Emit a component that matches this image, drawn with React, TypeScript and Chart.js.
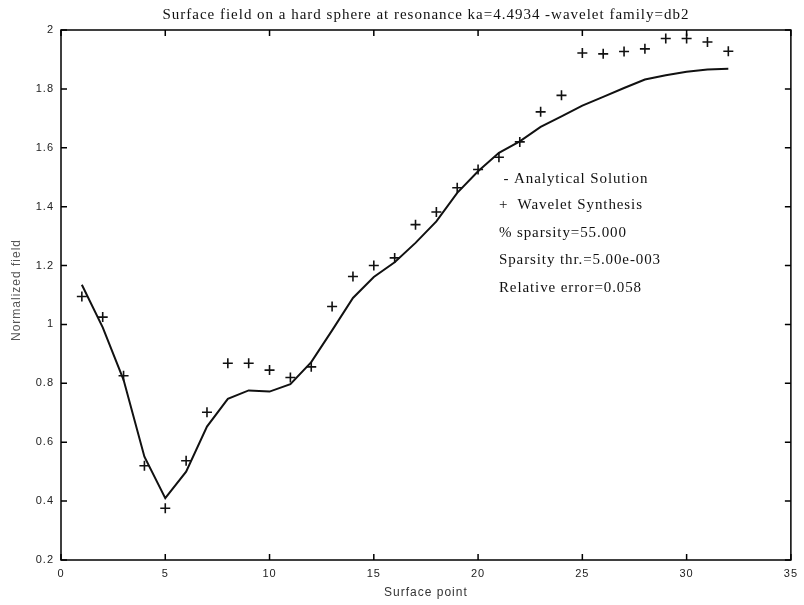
import React, { useEffect, useRef } from "react";
import { Chart, registerables } from "chart.js";

Chart.register(...registerables);

const surfacePoints = [
  1, 2, 3, 4, 5, 6, 7, 8, 9, 10, 11, 12, 13, 14, 15, 16,
  17, 18, 19, 20, 21, 22, 23, 24, 25, 26, 27, 28, 29, 30, 31, 32,
];

const analyticalSolution = [
  1.135, 0.99, 0.812, 0.551, 0.41, 0.5, 0.653, 0.747, 0.776, 0.772, 0.797,
  0.872, 0.98, 1.09, 1.161, 1.211, 1.277, 1.35, 1.447, 1.52, 1.583, 1.622,
  1.671, 1.707, 1.743, 1.773, 1.803, 1.832, 1.846, 1.858, 1.866, 1.868,
];

const waveletSynthesis = [
  1.095, 1.025, 0.826, 0.52, 0.376, 0.537, 0.702, 0.868, 0.868, 0.845, 0.82,
  0.856, 1.061, 1.163, 1.2, 1.226, 1.339, 1.382, 1.464, 1.526, 1.568, 1.62,
  1.722, 1.778, 1.922, 1.919, 1.927, 1.936, 1.971, 1.971, 1.959, 1.928,
];

const xTicks = [0, 5, 10, 15, 20, 25, 30, 35];
const yTicks = [0.2, 0.4, 0.6, 0.8, 1, 1.2, 1.4, 1.6, 1.8, 2];

const titleText =
  "Surface field on a hard sphere at resonance ka=4.4934 -wavelet family=db2";
const xLabel = "Surface point";
const yLabel = "Normalized field";
const annotationLines = [
  " - Analytical Solution",
  "+  Wavelet Synthesis",
  "% sparsity=55.000",
  "Sparsity thr.=5.00e-003",
  "Relative error=0.058",
];
const annotationX = 21;
const annotationY = [1.495, 1.404, 1.312, 1.22, 1.125];

const matlabPlugin = {
  id: "matlabStyle",
  beforeDraw(chart: any) {
    chart.ctx.letterSpacing = "1px";
  },
  afterDraw(chart: any) {
    const ctx = chart.ctx;
    const a = chart.chartArea;
    const xs = chart.scales.x;
    const ys = chart.scales.y;
    ctx.save();
    ctx.letterSpacing = "0px";
    ctx.strokeStyle = "#000";
    ctx.lineWidth = 1.5;
    ctx.strokeRect(a.left, a.top, a.right - a.left, a.bottom - a.top);
    const tl = 6;
    ctx.beginPath();
    xTicks.forEach((v) => {
      const px = xs.getPixelForValue(v);
      ctx.moveTo(px, a.bottom);
      ctx.lineTo(px, a.bottom - tl);
      ctx.moveTo(px, a.top);
      ctx.lineTo(px, a.top + tl);
    });
    yTicks.forEach((v) => {
      const py = ys.getPixelForValue(v);
      ctx.moveTo(a.left, py);
      ctx.lineTo(a.left + tl, py);
      ctx.moveTo(a.right, py);
      ctx.lineTo(a.right - tl, py);
    });
    ctx.stroke();

    // Title
    ctx.fillStyle = "#111";
    ctx.font = "15px 'Liberation Serif', 'DejaVu Serif', serif";
    ctx.letterSpacing = "0px";
    const w0 = ctx.measureText(titleText).width;
    const ls = Math.max(0, (527 - w0) / titleText.length);
    ctx.letterSpacing = ls + "px";
    ctx.textAlign = "center";
    ctx.textBaseline = "alphabetic";
    ctx.fillText(titleText, (a.left + a.right) / 2, 18.5);

    // Annotation
    ctx.textAlign = "left";
    ctx.textBaseline = "middle";
    ctx.letterSpacing = "0.9px";
    annotationLines.forEach((t, i) => {
      ctx.fillText(t, xs.getPixelForValue(annotationX), ys.getPixelForValue(annotationY[i]));
    });

    // Axis labels
    ctx.font = "12px 'Liberation Sans', Arial, sans-serif";
    ctx.letterSpacing = "1px";
    ctx.fillStyle = "#333";
    ctx.textAlign = "center";
    ctx.textBaseline = "middle";
    ctx.fillText(xLabel, (a.left + a.right) / 2, 593);
    ctx.save();
    ctx.translate(17, (a.top + a.bottom) / 2 - 5);
    ctx.rotate(-Math.PI / 2);
    ctx.fillStyle = "#555";
    ctx.fillText(yLabel, 0, 0);
    ctx.restore();
    ctx.restore();
  },
};

export default function App() {
  const ref = useRef<HTMLCanvasElement | null>(null);
  useEffect(() => {
    if (!ref.current) return;
    const chart = new Chart(ref.current, {
      type: "line",
      data: {
        datasets: [
          {
            label: "Analytical Solution",
            data: surfacePoints.map((x, i) => ({ x, y: analyticalSolution[i] })),
            borderColor: "#111",
            borderWidth: 2,
            pointRadius: 0,
            fill: false,
            tension: 0,
          },
          {
            label: "Wavelet Synthesis",
            data: surfacePoints.map((x, i) => ({ x, y: waveletSynthesis[i] })),
            showLine: false,
            pointStyle: "cross",
            pointRadius: 5,
            pointBorderWidth: 1.6,
            borderColor: "#111",
            backgroundColor: "#111",
          },
        ],
      },
      options: {
        responsive: false,
        animation: false,
        devicePixelRatio: 1,
        layout: { padding: { top: 30, right: 9, left: 0, bottom: 0 } },
        plugins: {
          legend: { display: false },
          title: { display: false },
          tooltip: { enabled: false },
        },
        scales: {
          x: {
            type: "linear",
            min: 0,
            max: 35,
            afterBuildTicks: (s: any) => {
              s.ticks = xTicks.map((v) => ({ value: v }));
            },
            ticks: {
              color: "#222",
              padding: 7,
              maxRotation: 0,
              font: { family: "'Liberation Sans', Arial, sans-serif", size: 11 },
              callback: (v: any) => String(v),
            },
            grid: { display: false, drawTicks: false },
            border: { display: false },
            afterFit: (s: any) => {
              s.height = 45;
            },
          },
          y: {
            type: "linear",
            min: 0.2,
            max: 2,
            afterBuildTicks: (s: any) => {
              s.ticks = yTicks.map((v) => ({ value: v }));
            },
            ticks: {
              color: "#222",
              padding: 7,
              font: { family: "'Liberation Sans', Arial, sans-serif", size: 11 },
              callback: (v: any) => Number(v).toFixed(1).replace(/\.0$/, ""),
            },
            grid: { display: false, drawTicks: false },
            border: { display: false },
            afterFit: (s: any) => {
              s.width = 61;
            },
          },
        },
      },
      plugins: [matlabPlugin],
    });
    return () => chart.destroy();
  }, []);
  return (
    <div style={{ position: "absolute", left: 0, top: 0, width: 804, height: 605, background: "#fff" }}>
      <canvas ref={ref} width={804} height={605} style={{ width: 804, height: 605, display: "block" }} />
    </div>
  );
}
